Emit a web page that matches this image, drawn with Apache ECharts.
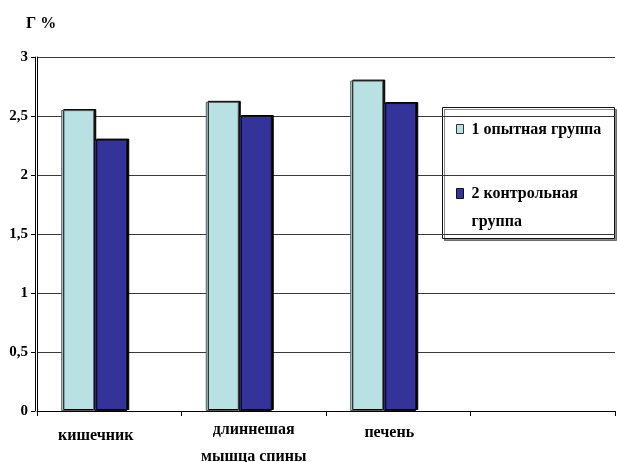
<!DOCTYPE html>
<html>
<head>
<meta charset="utf-8">
<script src="https://cdn.jsdelivr.net/npm/echarts@6/dist/echarts.min.js"></script>
<style>
  html, body { margin: 0; padding: 0; background: #fff; }
  #chart { width: 617px; height: 462px; }
</style>
</head>
<body>
<div id="chart"></div>
<script>
// Categories (the fourth slot is left empty on purpose)
const categories = ['кишечник', 'длиннешая\nмышца спины', 'печень', ''];
const seriesNames = ['1 опытная группа', '2 контрольная\nгруппа'];
const experimental = [2.55, 2.62, 2.8];
const control = [2.3, 2.5, 2.61];
const yMin = 0, yMax = 3, yStep = 0.5;
const axisTitle = 'Г %';

const LIGHT = '#b9e0e3';
const DARK = '#333399';
const FONT = '"Liberation Serif"';

const chart = echarts.init(document.getElementById('chart'), null, { renderer: 'canvas' });

const gridTop = 57, gridBottom = 51;
const labelStyle = { fontFamily: FONT, fontWeight: 'bold', fontSize: 16, color: '#000' };

const option = {
  backgroundColor: '#fff',
  animation: false,
  title: {
    text: axisTitle,
    left: 21, top: 11,
    textStyle: { fontFamily: FONT, fontWeight: 'bold', fontSize: 16, color: '#000' }
  },
  grid: [
    // axes, gridlines and labels
    { left: 37, right: 2, top: gridTop, bottom: gridBottom, containLabel: false, outerBoundsMode: 'none' },
    // bar groups sit a little left of each category centre
    { left: 22, right: 17, top: gridTop, bottom: gridBottom, containLabel: false, outerBoundsMode: 'none' }
  ],
  xAxis: [
    {
      gridIndex: 0, type: 'category', data: categories,
      axisLine: { lineStyle: { color: '#000', width: 1 } },
      axisTick: { show: true, length: 5, lineStyle: { color: '#000' } },
      axisLabel: Object.assign({
        margin: 5, interval: 0,
        formatter: (v, i) => v ? `{c${i}|${v}}` : '',
        rich: {
          c0: Object.assign({ lineHeight: 40, padding: [0, 27, 0, 0] }, labelStyle),
          c1: Object.assign({ lineHeight: 27 }, labelStyle),
          c2: Object.assign({ lineHeight: 34, padding: [0, 18, 0, 0] }, labelStyle)
        }
      }, labelStyle)
    },
    {
      gridIndex: 1, type: 'category', data: categories, show: false
    }
  ],
  yAxis: [
    {
      // inner rule of the doubled value axis, plus the horizontal gridlines
      gridIndex: 0, type: 'value', min: yMin, max: yMax, interval: yStep,
      axisLine: { show: true, lineStyle: { color: '#000', width: 1 } },
      axisTick: { show: false },
      axisLabel: { show: false },
      splitLine: { show: true, lineStyle: { color: '#3a3a3a', width: 1 } }
    },
    {
      gridIndex: 1, type: 'value', min: yMin, max: yMax, interval: yStep, show: false,
      splitLine: { show: false }
    },
    {
      // outer rule with ticks and labels
      gridIndex: 0, type: 'value', min: yMin, max: yMax, interval: yStep,
      position: 'left', offset: 2,
      axisLine: { show: true, lineStyle: { color: '#000', width: 1 } },
      axisTick: { show: true, length: 4, lineStyle: { color: '#000' } },
      splitLine: { show: false },
      axisLabel: {
        margin: 7, fontFamily: FONT, fontWeight: 'bold', fontSize: 15, color: '#000',
        formatter: v => String(v).replace('.', ',')
      }
    }
  ],
  series: [
    {
      name: seriesNames[0], type: 'bar', xAxisIndex: 1, yAxisIndex: 1,
      data: experimental, barWidth: 33, barGap: '0%',
      itemStyle: {
        color: LIGHT, borderColor: '#555', borderWidth: 1,
        shadowColor: '#000', shadowBlur: 0, shadowOffsetX: 2, shadowOffsetY: -1
      }
    },
    {
      name: seriesNames[1], type: 'bar', xAxisIndex: 1, yAxisIndex: 1,
      data: control, barWidth: 33, barGap: '0%',
      itemStyle: {
        color: DARK, borderColor: '#111', borderWidth: 1,
        shadowColor: '#000', shadowBlur: 0, shadowOffsetX: 2, shadowOffsetY: -1
      }
    }
  ],
  graphic: [
    {
      type: 'group', left: 442, top: 107,
      children: [
        {
          type: 'rect', shape: { x: 0, y: 0, width: 172, height: 131 },
          style: { fill: '#fff', stroke: '#111', lineWidth: 1,
                   shadowColor: 'rgba(0,0,0,0.45)', shadowOffsetX: 2, shadowOffsetY: 2, shadowBlur: 0 }
        },
        {
          type: 'rect', shape: { x: 14, y: 17, width: 7, height: 9 },
          style: { fill: LIGHT, stroke: '#333', lineWidth: 1 }
        },
        {
          type: 'text', x: 29, y: 22,
          style: { text: seriesNames[0], fill: '#000', verticalAlign: 'middle',
                   fontFamily: FONT, fontWeight: 'bold', fontSize: 16 }
        },
        {
          type: 'rect', shape: { x: 14, y: 81, width: 7, height: 10 },
          style: { fill: DARK, stroke: '#111', lineWidth: 1 }
        },
        {
          type: 'text', x: 29, y: 72,
          style: { text: seriesNames[1], fill: '#000', verticalAlign: 'top',
                   lineHeight: 28, fontFamily: FONT, fontWeight: 'bold', fontSize: 16 }
        }
      ]
    }
  ]
};

chart.setOption(option);
</script>
</body>
</html>
